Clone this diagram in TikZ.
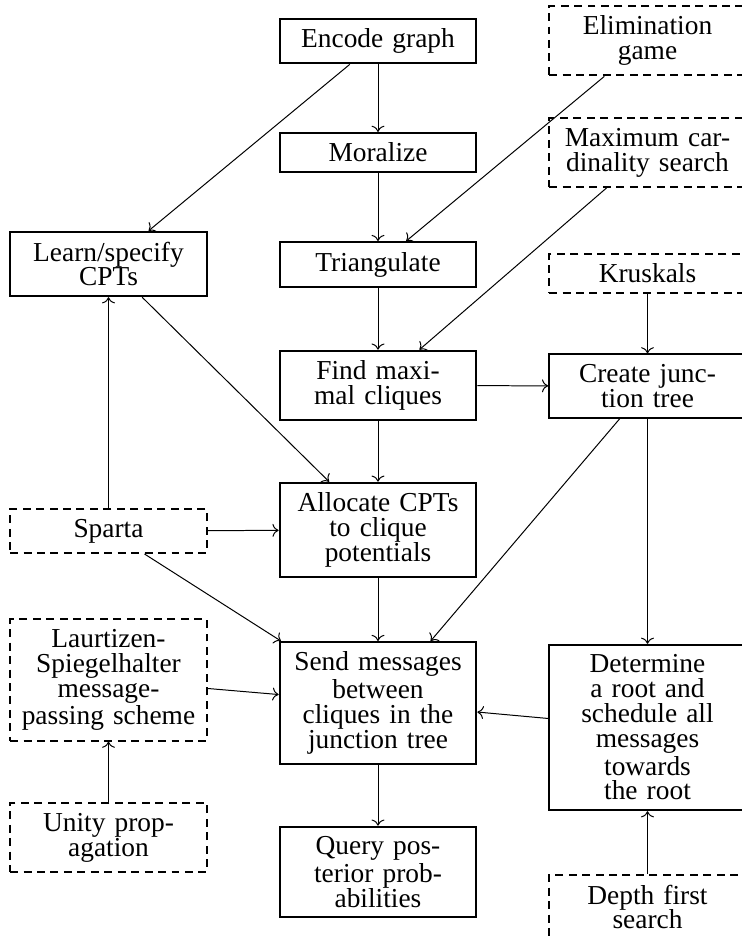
\documentclass[tikz,border=0pt]{standalone}
\usepackage{fontspec}
\setmainfont{Liberation Serif}
\usetikzlibrary{arrows.meta}

\begin{document}
\begin{tikzpicture}[
    x=0.4016pt, y=-0.4016pt,
    stage/.style={rectangle, draw, line width=0.8pt, text width=71pt,
                  align=center, inner sep=4pt,
                  font=\fontsize{11pt}{10pt}\selectfont},
    option/.style={stage, dash pattern=on 3.2pt off 2.2pt},
    flow/.style={->, line width=0.4pt},
  ]
    \useasboundingbox (0,0) rectangle (742,938);

    % Main pipeline (middle column)
    \node[stage] (encode)    at (378,41)    {Encode graph};
    \node[stage] (moralize)  at (378,152.5) {Moralize};
    \node[stage] (triang)    at (378,264.5) {Triangulate};
    \node[stage] (cliques)   at (378,385.5) {Find maxi-\\mal cliques};
    \node[stage] (allocate)  at (378,530)   {Allocate CPTs\\to clique\\potentials};
    \node[stage] (send)      at (378,703)   {Send messages\\between\\cliques in the\\junction tree};
    \node[stage] (query)     at (378,872)   {Query pos-\\terior prob-\\abilities};

    % Left column
    \node[stage]  (learn)    at (108.5,264) {Learn/specify\\CPTs};
    \node[option] (sparta)   at (108.5,531) {Sparta};
    \node[option] (lauritz)  at (108.5,680) {Laurtizen-\\Spiegelhalter\\message-\\passing scheme};
    \node[option] (unity)    at (108.5,837.5) {Unity prop-\\agation};

    % Right column
    \node[option] (elim)     at (647.5,40.5)  {Elimination\\game};
    \node[option] (maxcard)  at (647.5,152.5) {Maximum car-\\dinality search};
    \node[option] (kruskal)  at (647.5,273.5) {Kruskals};
    \node[stage]  (jtree)    at (647.5,386)   {Create junc-\\tion tree};
    \node[stage]  (schedule) at (647.5,727.5) {Determine\\a root and\\schedule all\\messages\\towards\\the root};
    \node[option] (dfs)      at (647.5,907)   {Depth first\\search};

    % Connectors
    \foreach \from/\to in {encode/moralize, encode/learn, moralize/triang,
        elim/triang, triang/cliques, maxcard/cliques, kruskal/jtree,
        cliques/jtree, cliques/allocate, learn/allocate, sparta/learn,
        sparta/allocate, sparta/send, allocate/send, jtree/send,
        jtree/schedule, lauritz/send, schedule/send, unity/lauritz,
        send/query, dfs/schedule}
      \draw[flow] (\from) -- (\to);
  \end{tikzpicture}
\end{document}
